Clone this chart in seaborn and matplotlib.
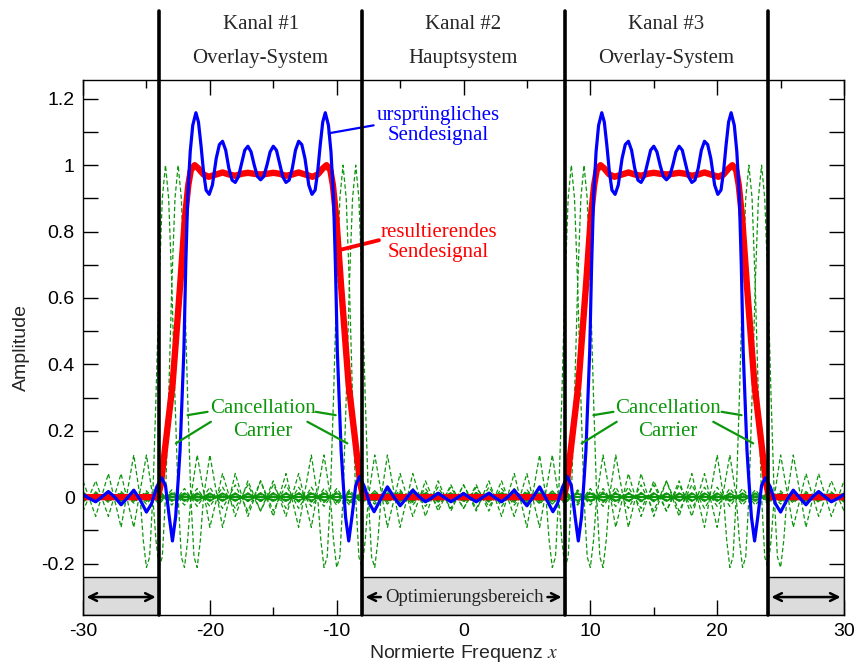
import numpy as np
import pandas as pd
import matplotlib
matplotlib.use("Agg")
import matplotlib.pyplot as plt
from matplotlib.ticker import MultipleLocator, FuncFormatter
from matplotlib.patches import Rectangle
import seaborn as sns

# ---------------- data ----------------
blue_x = [-30.0, -29.5, -29.0, -28.5, -28.0, -27.5, -27.0, -26.5, -26.0, -25.5, -25.0, -24.6, -24.2,
          -23.8, -23.5, -23.2, -22.95, -22.7, -22.5, -22.35, -22.2, -22.05, -21.9, -21.75, -21.55,
          -21.35, -21.1, -20.9, -20.7, -20.5, -20.3, -20.05, -19.8, -19.5, -19.25, -19.0, -18.75,
          -18.5, -18.25, -18.0, -17.75, -17.5, -17.25, -17.0, -16.75, -16.5, -16.25, -16.0, -15.75,
          -15.5, -15.25, -15.0, -14.75, -14.5, -14.25, -14.0, -13.75, -13.5, -13.25, -13.0, -12.75,
          -12.5, -12.2, -11.95, -11.7, -11.5, -11.3, -11.1, -10.9, -10.65, -10.45, -10.25, -10.1,
          -9.95, -9.8, -9.65, -9.5, -9.3, -9.05, -8.8, -8.5, -8.2, -7.8, -7.4, -7.05, -6.5, -6.0,
          -5.5, -5.0, -4.5, -4.0, -3.5, -3.0, -2.5, -2.0, -1.5, -1.0, -0.5, 0.0,
          0.5, 1.0, 1.5, 2.0, 2.5, 3.0, 3.5, 4.0, 4.5, 5.0, 5.5, 6.0, 6.5, 7.05, 7.4, 7.8, 8.2,
          8.5, 8.8, 9.05, 9.3, 9.5, 9.65, 9.8, 9.95, 10.1, 10.25, 10.45, 10.65, 10.9, 11.1, 11.3,
          11.5, 11.7, 11.95, 12.2, 12.5, 12.75, 13.0, 13.25, 13.5, 13.75, 14.0, 14.25, 14.5, 14.75,
          15.0, 15.25, 15.5, 15.75, 16.0, 16.25, 16.5, 16.75, 17.0, 17.25, 17.5, 17.75, 18.0,
          18.25, 18.5, 18.75, 19.0, 19.25, 19.5, 19.8, 20.05, 20.3, 20.5, 20.7, 20.9, 21.1, 21.35,
          21.55, 21.75, 21.9, 22.05, 22.2, 22.35, 22.5, 22.7, 22.95, 23.2, 23.5, 23.8, 24.2, 24.6,
          25.0, 25.5, 26.0, 26.5, 27.0, 27.5, 28.0, 28.5, 29.0, 29.5, 30.0]
blue_y = [0.008, -0.004, -0.014, 0.001, 0.017, 0.000, -0.023, -0.002, 0.021, -0.008, -0.045, -0.02, 0.03,
          0.058, 0.035, -0.06, -0.132, -0.06, 0.05, 0.14, 0.29, 0.44, 0.70, 0.90, 1.04,
          1.12, 1.158, 1.13, 1.06, 0.98, 0.925, 0.912, 0.94, 1.02, 1.062, 1.072, 1.045,
          0.99, 0.955, 0.948, 0.965, 1.005, 1.045, 1.057, 1.04, 1.0, 0.966, 0.956, 0.966,
          1.0, 1.04, 1.057, 1.045, 1.005, 0.965, 0.948, 0.955, 0.99, 1.045, 1.072, 1.062,
          1.02, 0.94, 0.912, 0.925, 0.98, 1.06, 1.13, 1.158, 1.12, 1.04, 0.90, 0.70,
          0.44, 0.29, 0.14, 0.05, -0.06, -0.132, -0.06, 0.035, 0.062, 0.03, -0.02, -0.044, -0.004, 0.031,
          0.001, -0.026, -0.003, 0.021, 0.001, -0.014, -0.002, 0.012, -0.001, -0.014, -0.002, 0.011,
          -0.002, -0.014, -0.001, 0.012, -0.002, -0.014, 0.001, 0.021, -0.003, -0.026, 0.001, 0.031, -0.004, -0.044, -0.02, 0.03, 0.062,
          0.035, -0.06, -0.132, -0.06, 0.05, 0.14, 0.29, 0.44, 0.70, 0.90, 1.04, 1.12, 1.158, 1.13, 1.06,
          0.98, 0.925, 0.912, 0.94, 1.02, 1.062, 1.072, 1.045, 0.99, 0.955, 0.948, 0.965, 1.005, 1.045,
          1.057, 1.04, 1.0, 0.966, 0.956, 0.966, 1.0, 1.04, 1.057, 1.045, 1.005, 0.965, 0.948,
          0.955, 0.99, 1.045, 1.072, 1.062, 1.02, 0.94, 0.912, 0.925, 0.98, 1.06, 1.13, 1.158, 1.12,
          1.04, 0.90, 0.70, 0.44, 0.29, 0.14, 0.05, -0.06, -0.132, -0.06, 0.035, 0.058, 0.03, -0.02,
          -0.045, -0.008, 0.021, -0.002, -0.023, 0.000, 0.017, 0.001, -0.014, -0.004, 0.008]

red_x = [-30.0, -24.1, -23.86, -23.4, -22.94, -22.34, -21.97, -21.7, -21.5, -21.2, -20.9, -20.5, -20.1,
         -19.5, -19.0, -18.5, -18.0, -17.5, -17.0, -16.5, -16.0, -15.5, -15.0, -14.5, -14.0, -13.5,
         -13.0, -12.5, -11.9, -11.5, -11.1, -10.8, -10.5, -10.3, -10.03, -9.66, -9.06, -8.6, -8.14,
         -7.9, 7.9, 8.14, 8.6, 9.06, 9.66, 10.03, 10.3, 10.5, 10.8, 11.1, 11.5, 11.9, 12.5, 13.0,
         13.5, 14.0, 14.5, 15.0, 15.5, 16.0, 16.5, 17.0, 17.5, 18.0, 18.5, 19.0, 19.5, 20.1, 20.5,
         20.9, 21.2, 21.5, 21.7, 21.97, 22.34, 22.94, 23.4, 23.86, 24.1, 30.0]
red_y = [0.0, 0.0, 0.04, 0.19, 0.34, 0.64, 0.84, 0.94, 0.985, 1.0, 0.99, 0.972, 0.965,
         0.972, 0.978, 0.972, 0.968, 0.974, 0.977, 0.974, 0.972, 0.974, 0.977, 0.974, 0.968, 0.972,
         0.978, 0.972, 0.965, 0.972, 0.99, 1.0, 0.985, 0.94, 0.84, 0.64, 0.34, 0.19, 0.04,
         0.0, 0.0, 0.04, 0.19, 0.34, 0.64, 0.84, 0.94, 0.985, 1.0, 0.99, 0.972, 0.965, 0.972, 0.978,
         0.972, 0.968, 0.974, 0.977, 0.974, 0.972, 0.974, 0.977, 0.974, 0.968, 0.972, 0.978, 0.972, 0.965, 0.972,
         0.99, 1.0, 0.985, 0.94, 0.84, 0.64, 0.34, 0.19, 0.04, 0.0, 0.0]

# cancellation carriers (dashed): positions and one read-off carrier profile
carrier_centers = [-23.5, -22.5, -9.5, -8.5, 8.5, 9.5, 22.5, 23.5]
carrier_offsets = [0.0, 0.25, 0.5, 0.75, 1.0, 1.25, 1.5, 1.75, 2.0, 2.5, 3.5, 4.5, 5.5, 6.5, 7.5,
                   8.5, 9.5, 10.5, 11.5, 12.5, 13.5, 14.5, 15.5, 16.5, 17.5, 18.5, 19.5, 20.5, 21.5,
                   22.5, 23.5, 24.5, 25.5, 26.5, 27.5, 28.5, 29.5, 30.5, 31.5, 32.5, 33.5, 34.5, 35.5,
                   36.5, 37.5, 38.5, 39.5, 40.5, 41.5, 42.5, 43.5, 44.5, 45.5, 46.5, 47.5, 48.5, 49.5,
                   50.5, 51.5, 52.5, 53.5, 54.5]
carrier_profile = [1.0, 0.90, 0.64, 0.30, 0.0, -0.18, -0.212, -0.13, 0.0, 0.127, -0.091, 0.071, -0.058,
                   0.049, -0.042, 0.037, -0.034, 0.030, -0.028, 0.026, -0.024, 0.022, -0.021, 0.019,
                   -0.018, 0.017, -0.016, 0.016, -0.015, 0.014, -0.014, 0.013, -0.013, 0.012, -0.012,
                   0.011, -0.011, 0.010, -0.010, 0.010, -0.009, 0.009, -0.009, 0.009, -0.008, 0.008,
                   -0.008, 0.008, -0.008, 0.007, -0.007, 0.007, -0.007, 0.007, -0.007, 0.006, -0.006,
                   0.006, -0.006, 0.006, -0.006, 0.006]

# small solid green carriers around zero
small_x = [-30, -29, -28, -27, -26, -25, -24, -23, -22, -21, -20, -19, -18, -17, -16, -15, -14, -13,
           -12, -11, -10, -9, -8, -7, -6, -5, -4, -3, -2, -1, 0, 1, 2, 3, 4, 5, 6, 7, 8, 9, 10, 11,
           12, 13, 14, 15, 16, 17, 18, 19, 20, 21, 22, 23, 24, 25, 26, 27, 28, 29, 30]
small_a = [0.012, -0.012, 0.012, -0.012, 0.012, -0.012, 0.012, -0.012, 0.012, -0.012, 0.012, -0.012,
           0.012, -0.012, 0.012, -0.012, 0.012, -0.012, 0.012, -0.012, 0.012, -0.012, 0.012, -0.012,
           0.012, -0.012, 0.012, -0.012, 0.012, -0.012, 0.012, -0.012, 0.012, -0.012, 0.012, -0.012,
           0.012, -0.012, 0.012, -0.012, 0.012, -0.012, 0.012, -0.012, 0.012, -0.012, 0.012, -0.012,
           0.012, -0.012, 0.012, -0.012, 0.012, -0.012, 0.012, -0.012, 0.012, -0.012, 0.012, -0.012, 0.012]
small_b = [-v for v in small_a]

channel_edges = [-24, -8, 8, 24]
channel_centers = [-16, 0, 16]
channel_titles = ["Kanal #1", "Kanal #2", "Kanal #3"]
channel_types = ["Overlay-System", "Hauptsystem", "Overlay-System"]
opt_regions = [(-30, -24), (-8, 8), (24, 30)]

# ---------------- plotting ----------------
sns.set_style("ticks")
plt.rcParams['font.family'] = ['Liberation Sans', 'DejaVu Sans']
plt.rcParams['axes.unicode_minus'] = False
plt.rcParams['mathtext.fontset'] = 'stix'

GREEN = "#0c960c"
SERIF = ['Liberation Serif', 'DejaVu Serif']

fig = plt.figure(figsize=(8.56, 6.66), dpi=100)
ax = fig.add_axes([0.097, 0.0766, 0.889, 0.803])

off = np.array(carrier_offsets)
prof = np.array(carrier_profile)
full_off = np.concatenate([-off[::-1], off[1:]])
full_prof = np.concatenate([prof[::-1], prof[1:]])
for c in carrier_centers:
    sns.lineplot(x=c + full_off, y=full_prof, ax=ax, color=GREEN, lw=0.9,
                 linestyle=(0, (3.5, 2)), sort=False, estimator=None, zorder=2)

sns.lineplot(x=small_x, y=small_a, ax=ax, color=GREEN, lw=1.2, sort=False, estimator=None, zorder=2)
sns.lineplot(x=small_x, y=small_b, ax=ax, color=GREEN, lw=1.2, sort=False, estimator=None, zorder=2)
ax.plot([-30, 30], [0, 0], color=GREEN, lw=1.6, zorder=2)

sns.lineplot(x=red_x, y=red_y, ax=ax, color="#ff0000", lw=4.6, sort=False, estimator=None, zorder=4)
sns.lineplot(x=blue_x, y=blue_y, ax=ax, color="#0000ff", lw=2.3, sort=False, estimator=None, zorder=5)

ax.set_xlim(-30, 30)
ax.set_ylim(-0.355, 1.256)

# channel boundaries extend above the axes
for xe in channel_edges:
    ax.plot([xe, xe], [-0.355, 1.465], color="black", lw=2.6, clip_on=False, zorder=7)

for cx, t1, t2 in zip(channel_centers, channel_titles, channel_types):
    ax.text(cx, 1.425, t1, ha='center', va='center', fontsize=15, family=SERIF, clip_on=False)
    ax.text(cx, 1.322, t2, ha='center', va='center', fontsize=15, family=SERIF, clip_on=False)

# optimisation region boxes
for (a, b) in opt_regions:
    ax.add_patch(Rectangle((a, -0.355), b - a, 0.113, facecolor="#dcdcdc",
                           edgecolor="black", lw=1.0, zorder=6))
yarr = -0.301
for (a, b) in [(-30, -24), (24, 30)]:
    ax.annotate('', xy=(a + 0.05, yarr), xytext=(b - 0.05, yarr),
                arrowprops=dict(arrowstyle='<->', lw=1.8, color='black', mutation_scale=14), zorder=8)
ax.annotate('', xy=(-7.95, yarr), xytext=(-6.3, yarr),
            arrowprops=dict(arrowstyle='->', lw=1.8, color='black', mutation_scale=14), zorder=8)
ax.annotate('', xy=(7.95, yarr), xytext=(6.4, yarr),
            arrowprops=dict(arrowstyle='->', lw=1.8, color='black', mutation_scale=14), zorder=8)
ax.text(0.1, yarr, "Optimierungsbereich", ha='center', va='center', fontsize=13.5,
        family=SERIF, zorder=8, color="#222222")

# annotations
ax.text(-1.97, 1.151, "ursprüngliches", color="#0000ff", ha='center', va='center', fontsize=15, family=SERIF)
ax.text(-1.97, 1.090, "Sendesignal", color="#0000ff", ha='center', va='center', fontsize=15, family=SERIF)
ax.plot([-10.63, -7.09], [1.096, 1.120], color="#0000ff", lw=1.6, zorder=5)

ax.text(-1.97, 0.798, "resultierendes", color="#ff0000", ha='center', va='center', fontsize=15, family=SERIF)
ax.text(-1.97, 0.738, "Sendesignal", color="#ff0000", ha='center', va='center', fontsize=15, family=SERIF)
ax.plot([-9.82, -6.67], [0.744, 0.774], color="#ff0000", lw=2.8, zorder=5)

for cx, shift in [(-15.83, 0.0), (16.14, 32.0)]:
    ax.text(cx, 0.268, "Cancellation", color=GREEN, ha='center', va='center', fontsize=15, family=SERIF)
    ax.text(cx, 0.199, "Carrier", color=GREEN, ha='center', va='center', fontsize=15, family=SERIF)
    for (x0, y0, x1, y1) in [(-21.76, 0.247, -20.18, 0.257), (-22.68, 0.162, -19.92, 0.227),
                             (-11.65, 0.257, -10.08, 0.247), (-12.31, 0.227, -9.16, 0.162)]:
        ax.plot([x0 + shift, x1 + shift], [y0, y1], color=GREEN, lw=1.6, zorder=5)

# axes styling
ax.xaxis.set_major_locator(MultipleLocator(10))
ax.xaxis.set_minor_locator(MultipleLocator(5))
ax.yaxis.set_major_locator(MultipleLocator(0.2))
ax.yaxis.set_minor_locator(MultipleLocator(0.1))
ax.yaxis.set_major_formatter(FuncFormatter(lambda v, p: "%g" % round(v, 2)))
ax.xaxis.set_major_formatter(FuncFormatter(lambda v, p: "%d" % round(v)))
ax.tick_params(which='both', direction='in', top=True, right=True, width=1.0, colors='black')
ax.tick_params(axis='x', which='major', length=10.5, labelsize=14, pad=6)
ax.tick_params(axis='x', which='minor', length=5.5)
ax.tick_params(axis='y', which='both', length=10.5, labelsize=14, pad=6)
for s in ax.spines.values():
    s.set_linewidth(1.0)
    s.set_color('black')
    s.set_zorder(9)

ax.set_xlabel("Normierte Frequenz $x$", fontsize=14, labelpad=2)
ax.set_ylabel("Amplitude", fontsize=14, labelpad=8)

fig.savefig("out.png", dpi=100)
